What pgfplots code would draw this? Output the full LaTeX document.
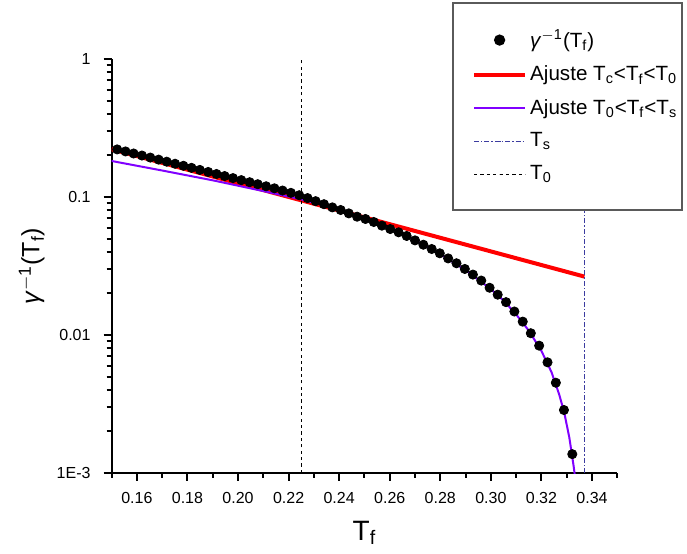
\documentclass[border=0pt]{standalone}
\usepackage{fontspec}
\setmainfont{Liberation Sans}
\usepackage{pgfplots}
\pgfplotsset{compat=1.18}
\definecolor{fitred}{RGB}{255,0,0}
\definecolor{fitpurple}{RGB}{128,0,255}
\definecolor{tsblue}{RGB}{60,60,160}
\definecolor{legframe}{RGB}{90,90,90}
\begin{document}
\begin{tikzpicture}
\path[use as bounding box] (-55.8pt,-40pt) rectangle (287.7pt,236.5pt);
\begin{axis}[
  at={(0pt,0pt)}, anchor=south west,
  scale only axis, width=252.85pt, height=207pt,
  xmin=0.15, xmax=0.35, ymin=0.001, ymax=1, ymode=log,
  axis x line*=bottom, axis y line*=left,
  axis line style={line width=1pt, black},
  tick align=outside,
  major tick length=4pt, minor tick length=2.5pt,
  every tick/.style={line width=1pt, black},
  xtick={0.16,0.18,0.20,0.22,0.24,0.26,0.28,0.30,0.32,0.34},
  xticklabels={0.16,0.18,0.20,0.22,0.24,0.26,0.28,0.30,0.32,0.34},
  minor xtick={0.15,0.17,0.19,0.21,0.23,0.25,0.27,0.29,0.31,0.33,0.35},
  ytick={0.001,0.01,0.1,1},
  yticklabels={1E-3,0.01,0.1,1},
  /pgf/number format/assume math mode=true,
  tick label style={font=\fontsize{8}{9}\selectfont},
  x tick label style={yshift=-2pt},
  y tick label style={xshift=-3pt},
  xlabel={T\textsubscript{f}},
  xlabel style={font=\fontsize{14}{16}\selectfont, at={(axis description cs:0.5,-0.145)}, anchor=center},
  ylabel={\textit{γ}\textsuperscript{$-$1}(T\textsubscript{f})},
  ylabel style={font=\fontsize{12.5}{14}\selectfont, at={(axis description cs:-0.158,0.5)}, anchor=center},
  legend cell align=left,
  legend image code/.code={\path (0cm,0cm); \draw[mark repeat=2,mark phase=2] plot coordinates {(0.3cm,0cm) (0.75cm,0cm) (1.2cm,0cm)};},
  legend style={at={(axis description cs:0.673,1.1377)}, anchor=north west,
    draw=legframe, line width=1pt, fill=white,
    font=\fontsize{10.3}{12}\selectfont,
    nodes={inner xsep=1.5pt},
    inner xsep=1pt, inner ysep=11.5pt, row sep=3.8pt},
]
% data points
\addplot[only marks, mark=*, mark size=2.3pt, black] coordinates {
(0.1522,0.2213) (0.1555,0.2139) (0.1587,0.2067) (0.1620,0.1998) (0.1653,0.1931)
(0.1686,0.1866) (0.1718,0.1803) (0.1751,0.1742) (0.1784,0.1684) (0.1816,0.1627)
(0.1849,0.1572) (0.1882,0.1519) (0.1915,0.1468) (0.1947,0.1419) (0.1980,0.1371)
(0.2013,0.1325) (0.2046,0.1280) (0.2078,0.1238) (0.2111,0.1196) (0.2144,0.1156)
(0.2176,0.1114) (0.2209,0.1072) (0.2242,0.1030) (0.2275,0.0982) (0.2307,0.0933)
(0.2340,0.0887) (0.2373,0.0841) (0.2406,0.0805) (0.2438,0.0761) (0.2471,0.0720)
(0.2504,0.0693) (0.2537,0.0659) (0.2569,0.0620) (0.2602,0.0586) (0.2635,0.0555)
(0.2667,0.0522) (0.2700,0.0485) (0.2733,0.0451) (0.2766,0.0420) (0.2798,0.0391)
(0.2831,0.0359) (0.2864,0.0331) (0.2897,0.0301) (0.2929,0.0274) (0.2962,0.0248)
(0.2995,0.0220) (0.3027,0.0196) (0.3060,0.0173) (0.3093,0.0148) (0.3126,0.0125)
(0.3158,0.0103) (0.3191,0.00837) (0.3224,0.00634) (0.3257,0.00451) (0.3289,0.00286)
(0.3322,0.00137)
};
\addlegendentry{\textit{γ}\textsuperscript{$-$1}(T\textsubscript{f})}
% red fit
\addplot[fitred, line width=2pt, no marks] coordinates {(0.150,0.2218) (0.337,0.0265)};
\addlegendentry{Ajuste T\textsubscript{c}<T\textsubscript{f}<T\textsubscript{0}}
% purple fit
\addplot[fitpurple, line width=1pt, no marks] coordinates {
(0.150,0.1824) (0.170,0.1556) (0.190,0.1321) (0.210,0.1104) (0.225,0.0962)
(0.240,0.0813) (0.250,0.0708) (0.260,0.0594) (0.270,0.0486) (0.280,0.0385)
(0.290,0.0295) (0.300,0.0215) (0.305,0.0178) (0.310,0.0141) (0.315,0.01076)
(0.320,0.00767) (0.324,0.00537) (0.327,0.00372) (0.329,0.00275) (0.331,0.00182)
(0.332,0.00138) (0.3328,0.00110) (0.3334,0.00090)
};
\addlegendentry{Ajuste T\textsubscript{0}<T\textsubscript{f}<T\textsubscript{s}}
% Ts
\addplot[tsblue, line width=0.7pt, dash pattern=on 2.5pt off 1pt on 0.7pt off 1pt] coordinates {(0.337,0.001) (0.337,1)};
\addlegendentry{T\textsubscript{s}}
% T0
\addplot[black, line width=0.6pt, dash pattern=on 1.6pt off 1.6pt] coordinates {(0.225,0.001) (0.225,1)};
\addlegendentry{T\textsubscript{0}}
\end{axis}
\end{tikzpicture}
\end{document}
